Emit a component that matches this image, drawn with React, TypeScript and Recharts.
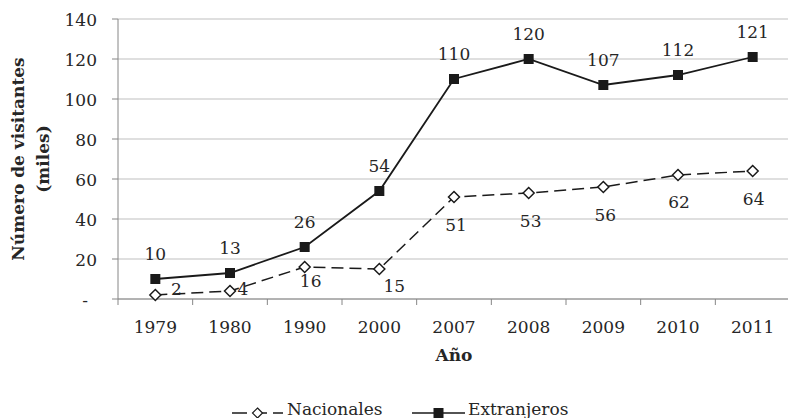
import React from 'react';
import { LineChart, Line, XAxis, YAxis, CartesianGrid, LabelList, Legend, Label } from 'recharts';

const YEARS = ['1979', '1980', '1990', '2000', '2007', '2008', '2009', '2010', '2011'];
const NACIONALES = [2, 4, 16, 15, 51, 53, 56, 62, 64];
const EXTRANJEROS = [10, 13, 26, 54, 110, 120, 107, 112, 121];
const Y_TICKS = [0, 20, 40, 60, 80, 100, 120, 140];

const data = YEARS.map((year, i) => ({ year, nacionales: NACIONALES[i], extranjeros: EXTRANJEROS[i] }));

const FONT = '"DejaVu Serif", serif';
const TEXT = '#262626';
const MARK = '#1a1a1a';
const AXIS = '#868686';
const GRID = '#bfbfbf';

const CHART_W = 790;
const CHART_H = 418;
const MARGIN = { top: 19, right: 0, bottom: 0, left: 0 };
const Y_AXIS_W = 118;
const BAND = (CHART_W - MARGIN.left - MARGIN.right - Y_AXIS_W) / YEARS.length;

// label placement (dx, dy from the point) for each Nacionales label
const NAC_LABEL_OFFSETS: number[][] = [[21, -6], [13, -2], [6, 14], [15, 17], [2, 28], [2, 28], [2, 28], [1, 27], [1, 28]];
const EXT_LABEL_DY = -25;

const SquareDot = (props: any) => {
  const { cx, cy, index } = props;
  if (cx == null || cy == null) return <g key={`s${index}`} />;
  return <rect key={`s${index}`} x={cx - 5} y={cy - 5} width={10} height={10} fill={MARK} />;
};

const diamondPath = (cx: number, cy: number, r: number) =>
  `M${cx},${cy - r} L${cx + r},${cy} L${cx},${cy + r} L${cx - r},${cy} Z`;

const DiamondDot = (props: any) => {
  const { cx, cy, index } = props;
  if (cx == null || cy == null) return <g key={`d${index}`} />;
  return <path key={`d${index}`} d={diamondPath(cx, cy, 5.5)} fill="#fff" stroke={MARK} strokeWidth={1.5} />;
};

const YTick = (props: any) => {
  const { x, y, payload } = props;
  const zero = payload.value === 0;
  return (
    <text x={zero ? x - 9 : x} y={y + 1} textAnchor="end" dominantBaseline="central"
      fontFamily={FONT} fontSize={17} fill={TEXT}>
      {zero ? '-' : payload.value}
    </text>
  );
};

const XTick = (props: any) => {
  const { x, y, payload, index } = props;
  const half = BAND / 2;
  return (
    <g>
      <line x1={x - half} x2={x - half} y1={y} y2={y + 6} stroke={AXIS} strokeWidth={1} />
      {index === YEARS.length - 1 && (
        <line x1={x + half} x2={x + half} y1={y} y2={y + 6} stroke={AXIS} strokeWidth={1} />
      )}
      <text x={x} y={y + 28} textAnchor="middle" dominantBaseline="central"
        fontFamily={FONT} fontSize={17} fill={TEXT}>
        {payload.value}
      </text>
    </g>
  );
};

const ExtLabel = (props: any) => {
  const { x, y, value, index } = props;
  return (
    <text key={`el${index}`} x={x} y={y + EXT_LABEL_DY} textAnchor="middle" dominantBaseline="central"
      fontFamily={FONT} fontSize={17} fill={TEXT}>
      {value}
    </text>
  );
};

const NacLabel = (props: any) => {
  const { x, y, value, index } = props;
  const [dx, dy] = NAC_LABEL_OFFSETS[index] || [0, 28];
  return (
    <text key={`nl${index}`} x={x + dx} y={y + dy} textAnchor="middle" dominantBaseline="central"
      fontFamily={FONT} fontSize={17} fill={TEXT}>
      {value}
    </text>
  );
};

const YTitle = () => (
  <g>
    <text transform="translate(18,159) rotate(-90)" textAnchor="middle" dominantBaseline="central"
      fontFamily={FONT} fontSize={17} fontWeight="bold" fill={TEXT}>
      Número de visitantes
    </text>
    <text transform="translate(43,159) rotate(-90)" textAnchor="middle" dominantBaseline="central"
      fontFamily={FONT} fontSize={17} fontWeight="bold" fill={TEXT}>
      (miles)
    </text>
  </g>
);

const XTitle = (props: any) => {
  const vb = props.viewBox || {};
  return (
    <text x={vb.x + vb.width / 2} y={vb.y + 56} textAnchor="middle" dominantBaseline="central"
      fontFamily={FONT} fontSize={17} fontWeight="bold" fill={TEXT}>
      Año
    </text>
  );
};

const LegendContent = () => (
  <svg width={788} height={44} style={{ display: 'block' }}>
    <line x1={232} x2={247} y1={39} y2={39} stroke={MARK} strokeWidth={1.5} />
    <line x1={262} x2={267} y1={39} y2={39} stroke={MARK} strokeWidth={1.5} />
    <line x1={273} x2={283} y1={39} y2={39} stroke={MARK} strokeWidth={1.5} />
    <path d={diamondPath(257.5, 39, 5)} fill="#fff" stroke={MARK} strokeWidth={1.2} />
    <text x={287} y={41} fontFamily={FONT} fontSize={17} fill={TEXT}>Nacionales</text>
    <line x1={412} x2={465} y1={39} y2={39} stroke={MARK} strokeWidth={1.5} />
    <rect x={433.5} y={34} width={10} height={10} fill={MARK} />
    <text x={468} y={41} fontFamily={FONT} fontSize={17} fill={TEXT}>Extranjeros</text>
  </svg>
);

export default function App() {
  return (
    <div style={{ position: 'absolute', left: 0, top: 0, width: 788, height: 418, overflow: 'hidden', background: '#fff' }}>
      <LineChart width={CHART_W} height={CHART_H} data={data} margin={MARGIN}>
        <CartesianGrid horizontal vertical={false} stroke={GRID} strokeWidth={1} />
        <XAxis dataKey="year" scale="band" interval={0} height={75} tickLine={false} tickSize={0} tickMargin={0}
          axisLine={{ stroke: AXIS, strokeWidth: 1 }} tick={<XTick />}>
          <Label content={<XTitle />} />
        </XAxis>
        <YAxis width={Y_AXIS_W} domain={[0, 140]} ticks={Y_TICKS} interval={0} tickSize={6} tickMargin={15}
          axisLine={{ stroke: AXIS, strokeWidth: 1 }} tickLine={{ stroke: AXIS, strokeWidth: 1 }} tick={<YTick />}>
          <Label content={<YTitle />} />
        </YAxis>
        <Legend verticalAlign="bottom" height={44} content={<LegendContent />} />
        <Line dataKey="nacionales" name="Nacionales" stroke={MARK} strokeWidth={1.5} strokeDasharray="12 6"
          dot={DiamondDot} activeDot={false} isAnimationActive={false}>
          <LabelList dataKey="nacionales" content={NacLabel} />
        </Line>
        <Line dataKey="extranjeros" name="Extranjeros" stroke={MARK} strokeWidth={1.8}
          dot={SquareDot} activeDot={false} isAnimationActive={false}>
          <LabelList dataKey="extranjeros" content={ExtLabel} />
        </Line>
      </LineChart>
    </div>
  );
}
